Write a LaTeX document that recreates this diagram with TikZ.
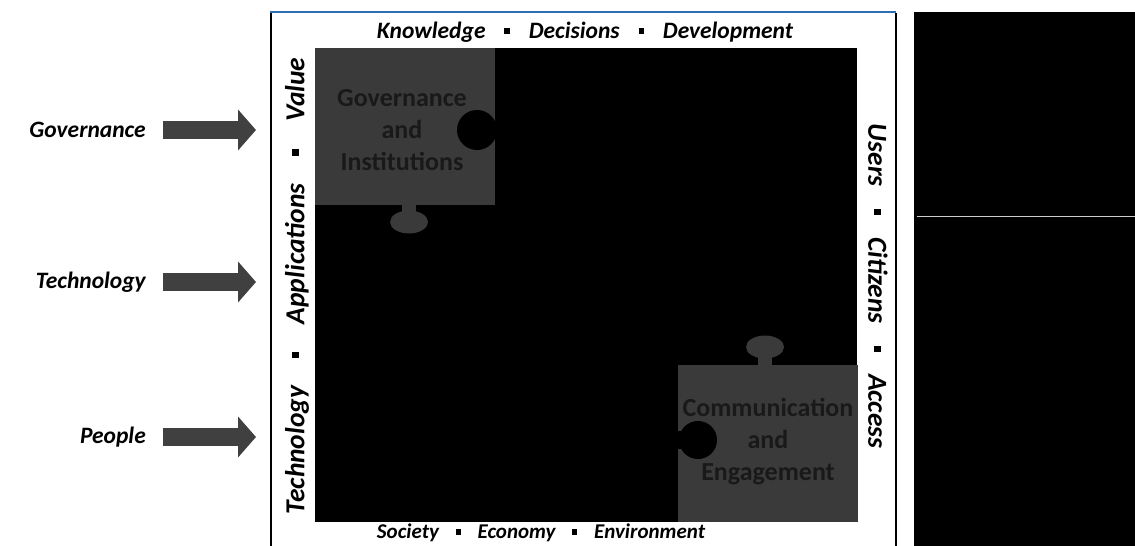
\documentclass[tikz,border=0pt]{standalone}
\usepackage{fontspec}
\setmainfont{Carlito}
\usetikzlibrary{arrows.meta, positioning}

\definecolor{piecegray}{HTML}{3A3A3A}
\definecolor{arrowgray}{HTML}{404040}
\definecolor{framblue}{HTML}{2E6DB4}
\newcommand{\sqsep}{\hspace{0.8em}\rule[0.2em]{0.24em}{0.24em}\hspace{0.8em}}
\newcommand{\widesep}{\hspace{1em}\rule[0.2em]{0.24em}{0.24em}\hspace{1em}}

\begin{document}
\begin{tikzpicture}[x=1pt, y=-1pt,
  lab/.style={font=\bfseries\itshape\fontsize{23.5}{26}\selectfont, inner sep=0pt},
  vlab/.style={font=\bfseries\itshape\fontsize{27.5}{30}\selectfont, inner sep=0pt},
  piecetext/.style={font=\bfseries\fontsize{26}{32}\selectfont, text=black!90, align=center},
  bigarrow/.style={draw=arrowgray, line width=18pt, -{Triangle[length=18pt, width=40pt]}}]
  \useasboundingbox (0,0) rectangle (1135,546);

  % frame and side panel
  \fill[black] (914,12) rectangle (1135,546);
  \draw[white!80!black, line width=1pt] (917,216) -- (1135,216);
  \draw[line width=2.5pt] (271,13) -- (271,546);
  \draw[line width=2.5pt] (896,13) -- (896,546);
  \draw[framblue, line width=2pt] (270,12) -- (896,12);

  % main square
  \fill[black] (315,48) rectangle (857,522);

  % puzzle piece top left
  \fill[piecegray] (315,48) rectangle (495,205);
  \fill[piecegray] (402,200) rectangle (416,215);
  \fill[piecegray] (409,222) ellipse [x radius=19, y radius=11.5];
  \fill[black] (477,130) circle [radius=20];
  \node[piecetext] (gov) at (402,130) {Governance\\and\\Institutions};

  % puzzle piece bottom right
  \fill[piecegray] (678,365) rectangle (858,522);
  \fill[piecegray] (758,352) rectangle (772,370);
  \fill[piecegray] (765,347) ellipse [x radius=19, y radius=11.5];
  \fill[black] (674,431) rectangle (690,449);
  \fill[black] (698,440) circle [radius=19];
  \node[piecetext] (comm) at (768,442) {Communication\\and\\Engagement};

  % labels round the square
  \node[lab] (top) at (585,32) {Knowledge\sqsep Decisions\sqsep Development};
  \node[lab, font=\bfseries\itshape\fontsize{21}{24}\selectfont] (bottom) at (541,533) {Society\sqsep Economy\sqsep Environment};
  \node[vlab, rotate=90] (left) at (297,286) {Technology\widesep Applications\widesep Value};
  \node[vlab, rotate=-90] (right) at (878,286) {Users\sqsep Citizens\sqsep Access};

  % inputs
  \node[lab, anchor=east] (lgov) at (146,130) {Governance};
  \node[lab, anchor=east] (ltech) at (146,282) {Technology};
  \node[lab, anchor=east] (lpeople) at (146,437) {People};

  \coordinate (agov) at (163,130);
  \coordinate (bgov) at (256,130);
  \coordinate (atech) at (163,282);
  \coordinate (btech) at (256,282);
  \coordinate (apeople) at (163,437);
  \coordinate (bpeople) at (256,437);

  \draw[bigarrow] (agov) -- (bgov);
  \draw[bigarrow] (atech) -- (btech);
  \draw[bigarrow] (apeople) -- (bpeople);
\end{tikzpicture}
\end{document}
